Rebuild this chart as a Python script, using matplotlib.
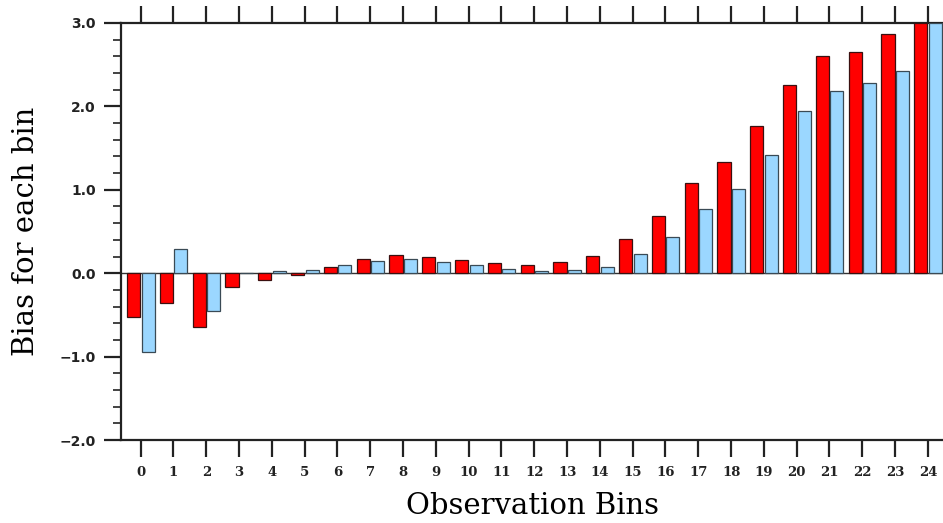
import numpy as np
import matplotlib
matplotlib.use("Agg")
import matplotlib.pyplot as plt
from matplotlib.ticker import MultipleLocator

bins = list(range(25))
red_vals = [-0.52, -0.36, -0.64, -0.165, -0.08, -0.02, 0.08, 0.17, 0.215, 0.19,
            0.16, 0.125, 0.10, 0.14, 0.205, 0.41, 0.68, 1.08, 1.33, 1.77,
            2.26, 2.60, 2.65, 2.87, 3.0]
blue_vals = [-0.94, 0.29, -0.45, 0.0, 0.03, 0.04, 0.10, 0.15, 0.17, 0.13,
             0.10, 0.055, 0.03, 0.04, 0.075, 0.23, 0.43, 0.77, 1.01, 1.42,
             1.945, 2.19, 2.28, 2.42, 3.0]
ytick_vals = [-2.0, -1.0, 0.0, 1.0, 2.0, 3.0]
ytick_labels = ["\u22122.0", "\u22121.0", "0.0", "1.0", "2.0", "3.0"]

W, H = 943, 523
fig = plt.figure(figsize=(W / 100, H / 100), dpi=100)
left, right, top, bottom = 121, 944.3, 23, 440
ax = fig.add_axes([left / W, 1 - bottom / H, (right - left) / W, (bottom - top) / H])

x = np.array(bins)
bw = 0.40
ax.bar(x - 0.215, red_vals, width=bw, color="#FF0000", edgecolor="#3a1010", linewidth=0.9, zorder=3)
ax.bar(x + 0.225, blue_vals, width=bw, color="#9BD7FF", edgecolor="#3a4a55", linewidth=0.9, zorder=3)
ax.axhline(0, color="#333333", linewidth=1.0, zorder=2)

ax.set_xlim(-0.6, 24.5)
ax.set_ylim(-2.0, 3.0)

for s in ax.spines.values():
    s.set_linewidth(1.6)
    s.set_color("#222222")

ax.set_xticks(bins)
ax.set_xticklabels([str(b) for b in bins], family="DejaVu Serif", fontweight="bold", fontsize=9.5)
ax.tick_params(axis="x", which="major", direction="out", length=12, width=1.6,
               top=True, bottom=True, pad=7, colors="#222222")
ax.set_yticks(ytick_vals)
ax.set_yticklabels(ytick_labels, family="DejaVu Sans", fontweight="bold", fontsize=10)
ax.yaxis.set_minor_locator(MultipleLocator(0.2))
ax.tick_params(axis="y", which="major", direction="out", length=12, width=1.6, pad=6, colors="#222222")
ax.tick_params(axis="y", which="minor", direction="out", length=6, width=1.2, colors="#222222")
ax.tick_params(axis="x", which="minor", bottom=False, top=False)

ax.set_xlabel("Observation Bins", family="DejaVu Serif", fontsize=21, labelpad=9)
ax.set_ylabel("Bias for each bin", family="DejaVu Serif", fontsize=21, labelpad=14)

fig.savefig("out.png", dpi=100)
